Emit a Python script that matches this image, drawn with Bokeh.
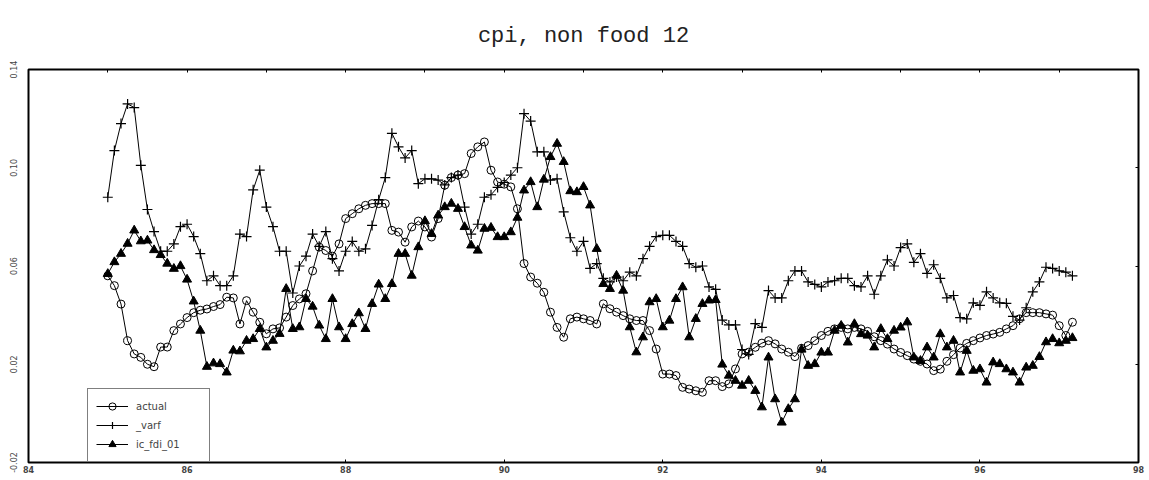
from bokeh.plotting import figure
from bokeh.models import (FixedTicker, NumeralTickFormatter, LinearAxis, Range1d,
                          Legend, LegendItem)
from bokeh.embed import file_html
from bokeh.resources import INLINE

# monthly series, starting January 1985
start_year = 85
start_month = 1

actual = [
    0.056, 0.052, 0.0445, 0.0296, 0.0242, 0.0228, 0.020, 0.019, 0.027, 0.027, 0.0337, 0.0364,
    0.039, 0.041, 0.042, 0.0425, 0.0435, 0.0443, 0.0473, 0.047, 0.0364, 0.0459, 0.0412, 0.0371,
    0.0324, 0.0344, 0.0348, 0.0392, 0.0439, 0.0466, 0.0487, 0.058, 0.0677, 0.0663, 0.064, 0.069,
    0.0793, 0.0813, 0.0833, 0.0847, 0.0854, 0.0854, 0.0854, 0.0745, 0.0738, 0.0697, 0.0759, 0.0783,
    0.0759, 0.0718, 0.0793, 0.0929, 0.096, 0.097, 0.0976, 0.1058, 0.1085, 0.1105, 0.099, 0.0942,
    0.0933, 0.0922, 0.0833, 0.061, 0.0555, 0.053, 0.0493, 0.0412, 0.035, 0.031, 0.0385, 0.0392,
    0.0385, 0.0378, 0.0364, 0.0446, 0.0426, 0.0412, 0.0398, 0.0385, 0.0378, 0.0378, 0.0337, 0.0262,
    0.016, 0.016, 0.0154, 0.0106, 0.0099, 0.0092, 0.0086, 0.0133, 0.0133, 0.0109, 0.012, 0.0181,
    0.0242, 0.0249, 0.0269, 0.0286, 0.0296, 0.0283, 0.0262, 0.0249, 0.0231, 0.0265, 0.0276, 0.0296,
    0.0317, 0.0334, 0.0344, 0.035, 0.0344, 0.035, 0.0344, 0.0334, 0.0312, 0.0296, 0.0282, 0.0262,
    0.0248, 0.0235, 0.0221, 0.0212, 0.0201, 0.0174, 0.018, 0.0212, 0.0239, 0.0266, 0.0285, 0.0296,
    0.0307, 0.0317, 0.0323, 0.033, 0.0344, 0.0357, 0.0385, 0.041, 0.041, 0.041, 0.0405, 0.040,
    0.0357, 0.0317, 0.0371,
]

varf = [
    0.088, 0.107, 0.118, 0.126, 0.1245, 0.101, 0.083, 0.074, 0.066, 0.066, 0.069, 0.076,
    0.077, 0.072, 0.065, 0.054, 0.056, 0.052, 0.052, 0.056, 0.073, 0.072, 0.091, 0.099,
    0.084, 0.076, 0.066, 0.066, 0.049, 0.060, 0.064, 0.073, 0.068, 0.074, 0.063, 0.058,
    0.066, 0.070, 0.066, 0.067, 0.0765, 0.087, 0.096, 0.114, 0.1085, 0.104, 0.107, 0.0935,
    0.0955, 0.0955, 0.095, 0.093, 0.096, 0.097, 0.084, 0.073, 0.077, 0.088, 0.089, 0.092,
    0.094, 0.097, 0.100, 0.122, 0.119, 0.1065, 0.1065, 0.095, 0.0955, 0.082, 0.0715, 0.066,
    0.070, 0.059, 0.061, 0.055, 0.0535, 0.0555, 0.054, 0.0575, 0.056, 0.063, 0.068, 0.072,
    0.0725, 0.0725, 0.070, 0.068, 0.061, 0.0595, 0.060, 0.0515, 0.0505, 0.038, 0.036, 0.036,
    0.026, 0.024, 0.0365, 0.035, 0.050, 0.047, 0.047, 0.054, 0.058, 0.058, 0.0535, 0.0525,
    0.0515, 0.0535, 0.054, 0.055, 0.055, 0.052, 0.0515, 0.056, 0.0485, 0.056, 0.0625, 0.060,
    0.0675, 0.069, 0.0615, 0.065, 0.057, 0.0605, 0.055, 0.047, 0.048, 0.039, 0.0385, 0.045,
    0.044, 0.0495, 0.047, 0.045, 0.0448, 0.0395, 0.038, 0.043, 0.0495, 0.0535, 0.0595, 0.059,
    0.058, 0.0575, 0.056,
]

ic_fdi_01 = [
    0.0568, 0.0616, 0.065, 0.0691, 0.0745, 0.0701, 0.0704, 0.0665, 0.0645, 0.061, 0.0589, 0.060,
    0.0545, 0.0456, 0.0337, 0.019, 0.0204, 0.0201, 0.0167, 0.0256, 0.0253, 0.0296, 0.0303, 0.0344,
    0.0269, 0.0296, 0.0324, 0.0507, 0.0344, 0.0351, 0.0466, 0.0435, 0.0358, 0.0303, 0.0466, 0.0351,
    0.0303, 0.0364, 0.0408, 0.0344, 0.0446, 0.0525, 0.0466, 0.0527, 0.065, 0.065, 0.0561, 0.0677,
    0.0783, 0.0731, 0.0806, 0.084, 0.0854, 0.0833, 0.0759, 0.0684, 0.0663, 0.0752, 0.0756, 0.0718,
    0.0718, 0.0738, 0.0797, 0.0908, 0.0942, 0.084, 0.0952, 0.1044, 0.1098, 0.1024, 0.0905, 0.0901,
    0.0922, 0.0847, 0.067, 0.0527, 0.0507, 0.0561, 0.050, 0.0351, 0.0249, 0.031, 0.0453, 0.0466,
    0.0351, 0.0378, 0.0466, 0.0514, 0.031, 0.0385, 0.0446, 0.046, 0.0462, 0.0199, 0.0154, 0.0133,
    0.0113, 0.0133, 0.0092, 0.0025, 0.0228, 0.0058, -0.0037, 0.0018, 0.0058, 0.026, 0.0194, 0.0201,
    0.0248, 0.0248, 0.0337, 0.0357, 0.0289, 0.0364, 0.0323, 0.0317, 0.0269, 0.0344, 0.0303, 0.0337,
    0.035, 0.0371, 0.0228, 0.0214, 0.0269, 0.0228, 0.0323, 0.0269, 0.0296, 0.0167, 0.0255, 0.0174,
    0.018, 0.0126, 0.0208, 0.0201, 0.018, 0.0167, 0.0126, 0.0187, 0.0194, 0.023, 0.029, 0.0303,
    0.0286, 0.0296, 0.0307,
]

x_ticks = [84, 86, 88, 90, 92, 94, 96, 98]
top_ticks = list(range(84, 99))
y_ticks = [-0.02, 0.02, 0.06, 0.10, 0.14]
right_ticks = [0.02, 0.06, 0.10]
title_text = "cpi, non food 12"
series_names = ["actual", "_varf", "ic_fdi_01"]

x_min, x_max = 84, 98
y_min, y_max = -0.02, 0.14

t = [start_year + (start_month - 1 + i) / 12 for i in range(len(actual))]

p = figure(width=1149, height=480, output_backend="svg", toolbar_location=None,
           x_range=Range1d(x_min, x_max), y_range=Range1d(y_min, y_max),
           min_border_left=28, min_border_right=11, min_border_top=69,
           min_border_bottom=18, background_fill_color="white",
           border_fill_color="white")

p.title.text = title_text
p.title.align = "center"
p.title.text_font = "Liberation Mono"
p.title.text_font_size = "22px"
p.title.text_font_style = "normal"
p.title.text_color = "#222222"
p.title.standoff = 42

p.outline_line_color = "black"
p.outline_line_width = 2
p.grid.visible = False

# bottom axis
xa = p.xaxis[0]
xa.ticker = FixedTicker(ticks=x_ticks)
xa.axis_line_color = None
xa.major_tick_in = 3
xa.major_tick_out = 0
xa.minor_tick_line_color = None
xa.major_label_standoff = 3
xa.major_label_text_font_size = "8px"
xa.major_label_text_font_style = "bold"
xa.major_label_text_font = "DejaVu Sans"

# left axis
ya = p.yaxis[0]
ya.ticker = FixedTicker(ticks=y_ticks)
ya.formatter = NumeralTickFormatter(format="0.00")
ya.axis_line_color = None
ya.major_tick_in = 0
ya.major_tick_out = 0
ya.minor_tick_line_color = None
ya.major_label_orientation = "vertical"
ya.major_label_standoff = 12
ya.major_label_text_font_size = "8px"
ya.major_label_text_font = "DejaVu Sans"

# top and right tick-only axes (labels not painted)
top = LinearAxis(ticker=FixedTicker(ticks=top_ticks),
                 major_label_text_font_size="1px", major_label_text_color=None,
                 major_label_standoff=0,
                 major_tick_in=3, major_tick_out=0, minor_tick_line_color=None,
                 axis_line_color=None)
p.add_layout(top, "above")
right = LinearAxis(ticker=FixedTicker(ticks=right_ticks),
                   major_label_text_font_size="1px", major_label_text_color=None,
                   major_label_standoff=0,
                   major_tick_in=3, major_tick_out=0, minor_tick_line_color=None,
                   axis_line_color=None)
p.add_layout(right, "right")

l1 = p.line(t, actual, line_color="black", line_width=1)
s1 = p.scatter(t, actual, marker="circle", size=8, line_color="black",
               fill_color=None, line_width=1)
l2 = p.line(t, varf, line_color="black", line_width=1)
s2 = p.scatter(t, varf, marker="cross", size=10, line_color="black", line_width=1.2)
l3 = p.line(t, ic_fdi_01, line_color="black", line_width=1)
s3 = p.scatter(t, ic_fdi_01, marker="triangle", size=9, line_color="black",
               fill_color="black")

legend = Legend(items=[
    LegendItem(label=series_names[0], renderers=[l1, s1]),
    LegendItem(label=series_names[1], renderers=[l2, s2]),
    LegendItem(label=series_names[2], renderers=[l3, s3]),
], location=(59, 0), orientation="vertical",
    border_line_color="black", border_line_width=1,
    background_fill_color="white", background_fill_alpha=1,
    glyph_width=32, glyph_height=18, label_height=18, label_width=65,
    spacing=1, padding=8, margin=0, label_standoff=8,
    label_text_font="DejaVu Sans", label_text_font_size="10px")
p.add_layout(legend, "center")

open("out.html", "w").write(file_html(p, INLINE))
